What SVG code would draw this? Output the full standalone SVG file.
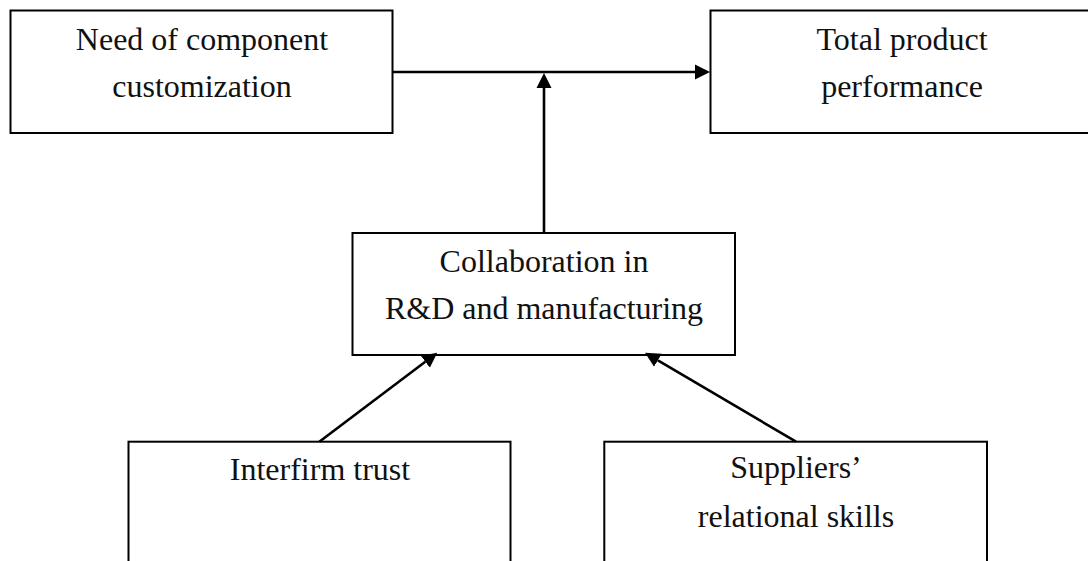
<svg xmlns="http://www.w3.org/2000/svg" width="1088" height="561" viewBox="0 0 1088 561">
<style>
.box{fill:#fff;stroke:#000;stroke-width:2}
.t{font-family:"Liberation Serif","Times New Roman",serif;font-size:32px;fill:#111;text-anchor:middle}
.c{stroke:#000;stroke-width:2.6;fill:none;marker-end:url(#ah)}
</style>
<defs>
<marker id="ah" markerUnits="userSpaceOnUse" markerWidth="16" markerHeight="16" refX="0" refY="7.5" orient="auto" viewBox="0 0 16 15">
<path d="M0,0 L15,7.5 L0,15 Z" fill="#000"/>
</marker>
</defs>
<g id="need">
<rect class="box" x="10.5" y="10.5" width="382" height="122.5"/>
<text class="t" x="202" y="50">Need of component</text>
<text class="t" x="202" y="97">customization</text>
</g>
<g id="total">
<rect class="box" x="710.5" y="10.5" width="400" height="122.5"/>
<text class="t" x="902" y="50">Total product</text>
<text class="t" x="902" y="97">performance</text>
</g>
<g id="collab">
<rect class="box" x="352.5" y="233" width="382.5" height="122"/>
<text class="t" x="544" y="272">Collaboration in</text>
<text class="t" x="544" y="319">R&amp;D and manufacturing</text>
</g>
<g id="trust">
<rect class="box" x="128.5" y="441.7" width="382" height="160"/>
<text class="t" x="320" y="480">Interfirm trust</text>
</g>
<g id="skills">
<rect class="box" x="604.3" y="441.7" width="382.7" height="160"/>
<text class="t" x="796" y="478">Suppliers’</text>
<text class="t" x="796" y="527">relational skills</text>
</g>
<g id="connectors">
<path class="c" d="M392.5,72 L695,72"/>
<path class="c" d="M544,233 L544,88"/>
<path class="c" d="M319.3,441.7 L425.3,361.7"/>
<path class="c" d="M796,441.7 L657.9,360.3"/>
</g>
</svg>
